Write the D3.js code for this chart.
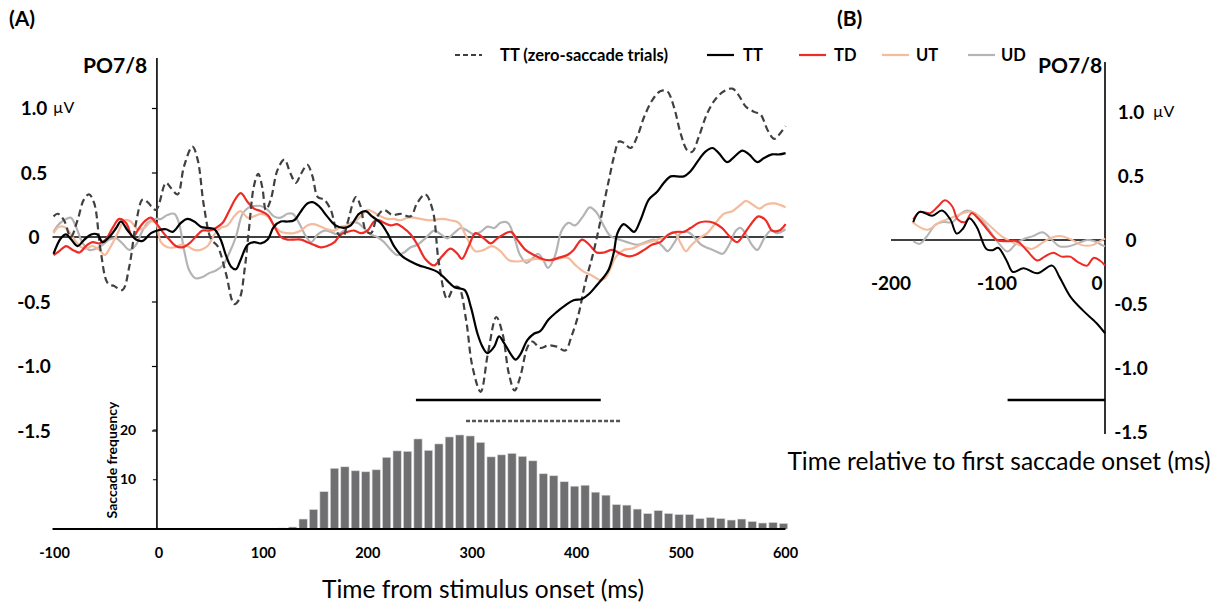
<!DOCTYPE html>
<html>
<head>
<meta charset="utf-8">
<script src="https://cdn.jsdelivr.net/npm/d3@7"></script>
<style>
  body { margin: 0; background: #fff; }
  svg { font-family: Lato, "Open Sans", sans-serif; }
</style>
</head>
<body>
<div id="chart"></div>
<script>
// ---- data ----
// panel A, [time ms, amplitude uV]
const ttZero = [[-99,0.16],[-95,0.18],[-89,0.13],[-82.6,0.0],[-76,0.13],[-70,0.29],[-65,0.33],[-60,0.26],[-54,-0.10],[-47,-0.36],[-41,-0.38],[-33,-0.41],[-26.5,-0.23],[-20,0.11],[-13.7,0.29],[-9,0.27],[-1,0.21],[8.6,0.42],[13.4,0.38],[19.8,0.33],[26,0.55],[34,0.70],[39,0.60],[45,0.24],[52,-0.02],[58,-0.07],[66,-0.28],[74,-0.52],[79,-0.48],[84,-0.25],[88,0.05],[93,0.40],[97,0.49],[101,0.38],[104.3,0.21],[109,0.29],[115.5,0.52],[122,0.60],[128,0.49],[133,0.42],[138,0.49],[144,0.56],[149,0.47],[154,0.31],[160,0.29],[166.5,0.21],[173,0.03],[178,0.0],[182.5,0.11],[190.5,0.31],[195,0.24],[200,0.05],[205,0.03],[211,0.16],[217.5,0.21],[225.5,0.17],[233,0.18],[243,0.16],[249,0.26],[257,0.33],[264,0.21],[270,-0.20],[278,-0.48],[284.5,-0.39],[289,-0.39],[296,-0.64],[302,-1.0],[310,-1.20],[317,-0.90],[325,-0.62],[331,-0.75],[337,-1.06],[342.5,-1.19],[348,-1.08],[355,-0.85],[359.5,-0.81],[367,-0.86],[375,-0.84],[383,-0.85],[391,-0.88],[397,-0.77],[404,-0.59],[410,-0.36],[417,-0.15],[423,0.06],[428,0.26],[433,0.45],[437.6,0.62],[442.5,0.74],[447,0.73],[453.6,0.69],[460,0.78],[466.5,0.93],[474.3,1.06],[482,1.13],[488.6,1.13],[495,1.01],[501.6,0.80],[508,0.67],[512.6,0.66],[519,0.78],[527,0.96],[535,1.07],[543,1.13],[551,1.15],[557,1.10],[564,1.01],[572,0.97],[578,0.95],[584.7,0.83],[591,0.76],[595.5,0.79],[602,0.86]];

const tt = [[-99,-0.13],[-92,-0.01],[-87,0.02],[-82,-0.02],[-76,-0.07],[-69.5,-0.02],[-63,0.02],[-57,0.02],[-52,-0.04],[-45.6,0.0],[-39,0.07],[-34.5,0.12],[-28,0.05],[-20,-0.02],[-13.7,-0.03],[-5.7,0.03],[0.6,0.05],[8.6,0.06],[15,0.04],[23,0.11],[29,0.14],[35.7,0.12],[42,0.08],[48.5,0.07],[55,0.06],[61,-0.02],[66,-0.14],[71,-0.23],[75.6,-0.25],[80,-0.18],[86.8,-0.06],[93,-0.04],[99.6,-0.05],[106,-0.02],[112,0.08],[118.6,0.12],[125,0.12],[131.4,0.13],[138,0.20],[144,0.26],[149,0.27],[155,0.24],[163,0.16],[171,0.09],[179,0.07],[185.6,0.09],[193.5,0.18],[200,0.20],[206,0.16],[214,0.11],[220.7,0.03],[227,-0.07],[235,-0.15],[243,-0.19],[251,-0.22],[259,-0.24],[268.6,-0.27],[277,-0.33],[285,-0.39],[294.6,-0.41],[300.5,-0.54],[307,-0.75],[311.7,-0.85],[316.5,-0.90],[323,-0.85],[327.6,-0.77],[332.3,-0.82],[339,-0.91],[343.5,-0.95],[348,-0.91],[354.7,-0.80],[361,-0.75],[367,-0.73],[375,-0.64],[383,-0.58],[391,-0.53],[399,-0.49],[407,-0.48],[414,-0.44],[421.6,-0.37],[428,-0.31],[432.8,-0.25],[437.5,-0.12],[441,0.03],[447,0.10],[452,0.07],[457,0.04],[463,0.13],[471,0.29],[479,0.35],[485.5,0.42],[492,0.47],[498,0.47],[504.6,0.47],[511,0.51],[519,0.60],[525,0.66],[532,0.69],[538,0.65],[546,0.58],[552.6,0.62],[560.6,0.67],[567,0.64],[575,0.58],[581,0.61],[589,0.64],[596,0.64],[602,0.65]];

const td = [[-99,-0.14],[-93.5,-0.11],[-87,-0.07],[-80.7,-0.10],[-74,-0.12],[-68,-0.07],[-61.6,-0.04],[-55,-0.05],[-49,-0.02],[-42.4,0.07],[-36,0.14],[-29.7,0.11],[-23,0.0],[-17,0.07],[-10.5,0.13],[-5.7,0.15],[-1,0.11],[5.4,0.04],[11.8,-0.02],[18,-0.07],[24.6,-0.08],[31,-0.05],[37,0.0],[43.7,0.05],[50,0.05],[56.5,0.07],[63,0.11],[69,0.20],[75.6,0.30],[80.4,0.34],[87,0.27],[93,0.22],[99.6,0.20],[106,0.17],[112,0.09],[118.6,0.0],[125,-0.02],[131,-0.02],[138,-0.02],[144,-0.04],[150,-0.06],[157,-0.08],[163,-0.07],[170,-0.04],[176,0.02],[182.5,0.04],[189,0.05],[195,0.03],[201.6,0.05],[208,0.12],[213,0.13],[217.5,0.11],[224,0.09],[230,0.10],[236,0.07],[243,0.02],[249.5,-0.06],[257,-0.17],[265.5,-0.22],[273,-0.15],[281,-0.09],[287.7,-0.13],[292,-0.17],[298.6,-0.07],[305,0.03],[313,-0.01],[319.5,-0.05],[326,-0.01],[332,0.02],[339,0.04],[345,-0.02],[353,-0.10],[361,-0.14],[369,-0.17],[377,-0.18],[385,-0.16],[393,-0.14],[399,-0.10],[407,-0.02],[414,-0.06],[421,-0.12],[428,-0.12],[436,-0.10],[444,-0.13],[452,-0.15],[458,-0.14],[466.5,-0.10],[474,-0.06],[482,-0.04],[490,0.02],[498,0.04],[504.6,0.04],[511,0.07],[519,0.11],[525,0.12],[533,0.11],[541,0.07],[549,0.0],[555.6,-0.04],[562,0.02],[568,0.09],[576,0.16],[583,0.13],[589,0.05],[596,0.05],[602,0.10]];

const ut = [[-99,0.03],[-93.5,0.08],[-87,0.07],[-80.7,0.0],[-74,-0.07],[-68,-0.09],[-61.6,-0.07],[-55,-0.10],[-50,-0.14],[-44,-0.07],[-37.6,0.03],[-31,0.13],[-25,0.12],[-18.5,0.06],[-12,0.07],[-5.7,0.12],[-1,0.11],[3.8,-0.04],[10,-0.08],[16.6,-0.08],[23,-0.06],[29,-0.07],[35.7,-0.10],[42,-0.10],[48.5,-0.07],[55,0.02],[61,0.07],[67.6,0.09],[74,0.16],[80,0.20],[87,0.15],[93,0.16],[99.6,0.18],[106,0.16],[112,0.09],[118.6,0.04],[125,0.03],[131,0.03],[138,0.05],[144,0.09],[150,0.10],[157,0.08],[163,0.06],[170,0.05],[176,0.08],[182.5,0.09],[189,0.12],[195,0.16],[201.6,0.21],[208,0.19],[214,0.16],[220.7,0.14],[227,0.14],[233,0.13],[240,0.15],[246,0.15],[252.6,0.14],[262,0.13],[272,0.14],[281,0.13],[289,0.11],[297,-0.01],[305,-0.11],[313,-0.10],[321,-0.07],[329,-0.11],[337,-0.18],[345,-0.19],[354.7,-0.18],[364,-0.17],[374,-0.18],[383,-0.17],[393,-0.16],[401,-0.22],[409,-0.27],[417,-0.30],[423,-0.33],[429,-0.32],[434,-0.25],[439,-0.16],[447,-0.10],[455,-0.09],[463,-0.06],[471,-0.04],[479,-0.02],[487,0.0],[495,0.04],[501.6,-0.05],[506.5,-0.11],[511,-0.07],[519,-0.01],[527,0.03],[535,0.11],[543,0.18],[551,0.20],[559,0.25],[564,0.28],[570.6,0.25],[577,0.22],[583,0.25],[591,0.26],[602,0.23]];

const ud = [[-99,0.04],[-95,0.09],[-89,0.13],[-82.6,0.15],[-77.5,0.08],[-71,-0.05],[-65,-0.10],[-58,-0.09],[-52,-0.06],[-45.6,-0.02],[-39,-0.01],[-33,-0.05],[-26.5,-0.10],[-20,-0.06],[-15,0.03],[-9,0.11],[-2.5,0.14],[3.8,0.14],[10,0.17],[16.6,0.18],[21,0.11],[26,-0.10],[31,-0.26],[37,-0.32],[43.7,-0.31],[50,-0.28],[56.5,-0.26],[63,-0.22],[69,-0.13],[75.6,0.0],[82,0.18],[88,0.23],[93,0.24],[99.6,0.24],[106,0.21],[112,0.16],[118.6,0.15],[125,0.18],[130,0.18],[136,0.11],[143,0.0],[147.8,-0.04],[154,0.02],[160.5,0.05],[166.5,0.04],[173,0.02],[179,0.05],[185.6,0.11],[192,0.11],[198,0.07],[204.7,0.02],[211,0.0],[217.5,-0.04],[224,-0.10],[230,-0.14],[236.6,-0.12],[243,-0.08],[249.5,-0.06],[257,-0.01],[265.5,0.05],[272,0.02],[278,-0.01],[284.5,0.03],[291,0.07],[297,0.05],[303.6,0.02],[310,0.04],[316.5,0.08],[323,0.07],[329,0.11],[336,0.11],[342.5,-0.01],[347.7,-0.14],[354,-0.20],[360.5,-0.16],[365,-0.13],[370,-0.18],[374.6,-0.24],[381,-0.15],[387.6,0.05],[394,0.11],[400.5,0.09],[408,0.16],[414.5,0.23],[421,0.19],[427,0.10],[434,0.01],[442.5,-0.02],[450,-0.04],[460,-0.06],[468,-0.04],[476,-0.02],[484,-0.07],[489,-0.11],[495,-0.05],[501.6,0.03],[508,0.04],[514.5,0.0],[521,-0.06],[529,-0.09],[535,-0.11],[541.6,-0.13],[548,-0.06],[554.5,0.05],[559,0.07],[564,0.02],[570.6,-0.07],[575,-0.10],[581.5,-0.01],[588,0.05],[594,0.03],[602,0.06]];

// panel B, time relative to first saccade onset
const ttB = [[-179,0.14],[-173,0.22],[-161,0.19],[-152,0.23],[-144,0.16],[-138,0.05],[-132,0.09],[-126,0.17],[-119,0.10],[-110,-0.07],[-104,-0.08],[-99,-0.06],[-91,-0.16],[-85,-0.25],[-75,-0.22],[-62,-0.26],[-48,-0.20],[-41,-0.29],[-31,-0.44],[-19,-0.55],[-6,-0.65],[2,-0.73]];
const tdB = [[-179,0.16],[-173,0.22],[-163,0.21],[-156,0.26],[-149,0.31],[-142,0.26],[-137,0.16],[-130,0.14],[-124,0.21],[-118,0.17],[-109,0.08],[-100,0.0],[-91,-0.01],[-81,-0.01],[-72,-0.08],[-62,-0.16],[-55,-0.13],[-47,-0.10],[-39,-0.13],[-31,-0.13],[-24,-0.17],[-15,-0.20],[-9,-0.14],[-3,-0.16],[2,-0.20]];
const utB = [[-180,0.14],[-166,0.08],[-154,0.14],[-144,0.17],[-135,0.20],[-127,0.22],[-121,0.21],[-113,0.16],[-104,0.09],[-94,0.02],[-85,-0.02],[-75,-0.05],[-67,-0.07],[-57,-0.02],[-48,0.02],[-39,0.03],[-29,0.0],[-20,-0.04],[-10,-0.04],[-3,-0.01],[2,0.01]];
const udB = [[-179,-0.01],[-173,-0.03],[-166,0.03],[-158,0.12],[-151,0.14],[-142,0.14],[-135,0.20],[-128,0.23],[-121,0.21],[-113,0.14],[-105,0.05],[-97,-0.04],[-90,-0.09],[-81,-0.02],[-74,0.01],[-66,0.03],[-57,0.06],[-48,0.0],[-41,-0.05],[-33,-0.05],[-25,-0.03],[-15,0.0],[-8,-0.01],[-1,-0.04],[2,-0.05]];

// saccade histogram (bin centre ms, count)
const histTimes = [90,100,110,120,130,140,150,160,170,180,190,200,210,220,230,240,250,260,270,280,290,300,310,320,330,340,350,360,370,380,390,400,410,420,430,440,450,460,470,480,490,500,510,520,530,540,550,560,570,580,590,600];
const histCounts = [0.1,0.1,0.15,0.2,0.4,2.0,3.9,7.5,12.2,12.5,11.7,11.5,11.9,14.4,15.7,15.6,18.1,15.8,17.1,18.5,18.9,18.7,17.4,14.5,14.9,15.2,14.6,13.7,11.1,10.7,9.5,8.6,8.8,7.4,6.8,4.9,4.8,4.0,3.1,3.7,3.1,2.9,2.9,2.1,2.3,2.1,1.8,2.0,1.5,1.2,1.3,1.1];

// significance windows
const sigSolidA = [248, 425];
const sigDashedA = [296, 445];
const sigSolidB = [-90, 0];

// ticks and labels
const erpTicks = [1.0, 0.5, 0, -0.5, -1.0, -1.5];
const erpTickLabels = ["1.0", "0.5", "0", "-0.5", "-1.0", "-1.5"];
const xTicksA = [-100, 0, 100, 200, 300, 400, 500, 600];
const xTicksB = [-200, -100, 0];
const histTicks = [10, 20];
const legendNames = ["TT (zero-saccade trials)", "TT", "TD", "UT", "UD"];

// ---- drawing ----
const width = 1220, height = 604;
const svg = d3.select("#chart").append("svg")
  .attr("width", width)
  .attr("height", height);

const xA = d3.scaleLinear().domain([-100, 600]).range([52.5, 783.5]);
const yA = d3.scaleLinear().domain([-1.5, 1.0]).range([430.5, 108]);
const yH = d3.scaleLinear().domain([0, 20]).range([529, 429.5]);
const xB = d3.scaleLinear().domain([-200, 0]).range([891, 1103]);
const yB = d3.scaleLinear().domain([-1.5, 1.0]).range([432, 112]);

const styles = [
  { color: "#404040", dash: "7,4", w: 2.2 },   // TT zero-saccade
  { color: "#000000", dash: null, w: 2.2 },    // TT
  { color: "#ee2b24", dash: null, w: 2.2 },    // TD
  { color: "#f4bb9c", dash: null, w: 2.2 },    // UT
  { color: "#b4b4b4", dash: null, w: 2.2 }     // UD
];

// panel labels
svg.append("text").attr("x", 9).attr("y", 26).attr("font-size", 21).attr("font-weight", "bold").text("(A)");
svg.append("text").attr("x", 837).attr("y", 26).attr("font-size", 21).attr("font-weight", "bold").text("(B)");

// legend
const legendX = [[455, 500], [707, 743], [799, 834], [882, 916], [968, 1001]];
const legend = svg.append("g").attr("class", "legend");
legendNames.forEach((name, i) => {
  const s = styles[i];
  legend.append("line")
    .attr("x1", legendX[i][0]).attr("x2", legendX[i][0] + 27)
    .attr("y1", 55).attr("y2", 55)
    .attr("stroke", s.color).attr("stroke-width", 2.2)
    .attr("stroke-dasharray", i === 0 ? "5,3" : null);
  legend.append("text")
    .attr("x", legendX[i][1]).attr("y", 61)
    .attr("font-size", 16.5).attr("font-weight", "bold")
    .text(name);
});

// ===== panel A =====
const gA = svg.append("g").attr("class", "panelA");

gA.append("text").attr("x", 83).attr("y", 73).attr("font-size", 21).attr("font-weight", "bold").text("PO7/8");

// vertical axis line, continuous through histogram
gA.append("line").attr("x1", xA(0)).attr("x2", xA(0)).attr("y1", 58).attr("y2", yH(0))
  .attr("stroke", "#000").attr("stroke-width", 1.6);

// ERP ticks
gA.append("g")
  .attr("transform", `translate(${xA(0)},0)`)
  .call(d3.axisLeft(yA).tickValues(erpTicks.filter(d => d !== 0)).tickSize(5).tickSizeOuter(0).tickFormat(""))
  .call(g => g.select(".domain").remove())
  .selectAll("line").attr("stroke-width", 1.2);

gA.append("g").selectAll("text")
  .data(erpTicks)
  .join("text")
  .attr("x", 34)
  .attr("y", d => yA(d) + 7)
  .attr("text-anchor", "middle")
  .attr("font-size", 19).attr("font-weight", "bold")
  .text((d, i) => erpTickLabels[i]);
gA.append("text").attr("x", 53).attr("y", yA(1.0) + 5).attr("font-size", 16).text("\u00b5V");

// zero line
gA.append("line").attr("x1", xA(-100)).attr("x2", xA(600)).attr("y1", yA(0)).attr("y2", yA(0))
  .attr("stroke", "#000").attr("stroke-width", 1.6);

// histogram
const bw = xA(10) - xA(0);
gA.append("g").selectAll("rect")
  .data(histCounts)
  .join("rect")
  .attr("x", (d, i) => xA(histTimes[i]) - bw / 2 + 1.1)
  .attr("width", bw - 2.2)
  .attr("y", d => yH(d))
  .attr("height", d => yH(0) - yH(d))
  .attr("fill", "#6f6e70")
  .attr("stroke", "#d8d8d8")
  .attr("stroke-width", 0.6);

gA.append("line").attr("x1", xA(-100)).attr("x2", xA(600) + 2).attr("y1", yH(0)).attr("y2", yH(0))
  .attr("stroke", "#000").attr("stroke-width", 2);

gA.append("g")
  .attr("transform", `translate(${xA(0)},0)`)
  .call(d3.axisLeft(yH).tickValues(histTicks).tickSize(4).tickFormat(""))
  .call(g => g.select(".domain").remove());

gA.append("g").selectAll("text")
  .data(histTicks)
  .join("text")
  .attr("x", 128).attr("y", d => yH(d) + 5)
  .attr("text-anchor", "middle")
  .attr("font-size", 14).attr("font-weight", "bold")
  .text(d => d);

gA.append("text")
  .attr("transform", "translate(117,460) rotate(-90)")
  .attr("text-anchor", "middle")
  .attr("font-size", 14).attr("font-weight", "bold")
  .text("Saccade frequency");

// x tick labels and title
gA.append("g").selectAll("text")
  .data(xTicksA)
  .join("text")
  .attr("x", d => xA(d) + 2)
  .attr("y", 558)
  .attr("text-anchor", "middle")
  .attr("font-size", 14.5).attr("font-weight", "bold")
  .text(d => d);

gA.append("text").attr("x", 483).attr("y", 598).attr("text-anchor", "middle")
  .attr("font-size", 24.5).attr("fill", "#000")
  .text("Time from stimulus onset (ms)");

// significance bars
gA.append("line").attr("x1", xA(sigSolidA[0])).attr("x2", xA(sigSolidA[1]))
  .attr("y1", 400).attr("y2", 400).attr("stroke", "#000").attr("stroke-width", 2.5);
gA.append("line").attr("x1", xA(sigDashedA[0])).attr("x2", xA(sigDashedA[1]))
  .attr("y1", 421).attr("y2", 421).attr("stroke", "#555").attr("stroke-width", 2.5)
  .attr("stroke-dasharray", "4,2");

// ERP traces
const lineA = d3.line().x(d => xA(d[0])).y(d => yA(d[1])).curve(d3.curveCatmullRom.alpha(0.5));
const seriesA = [ud, ut, td, ttZero, tt];
const styleIdxA = [4, 3, 2, 0, 1];
seriesA.forEach((s, i) => {
  const st = styles[styleIdxA[i]];
  gA.append("path")
    .datum(s)
    .attr("d", lineA)
    .attr("fill", "none")
    .attr("stroke", st.color)
    .attr("stroke-width", st.w)
    .attr("stroke-dasharray", st.dash);
});

// ===== panel B =====
const gB = svg.append("g").attr("class", "panelB");

gB.append("text").attr("x", 1038).attr("y", 73).attr("font-size", 21).attr("font-weight", "bold").text("PO7/8");

gB.append("line").attr("x1", 1105).attr("x2", 1105).attr("y1", 62).attr("y2", 434)
  .attr("stroke", "#000").attr("stroke-width", 1.6);
gB.append("line").attr("x1", 891).attr("x2", 1105).attr("y1", yB(0)).attr("y2", yB(0))
  .attr("stroke", "#000").attr("stroke-width", 1.6);

gB.append("g").selectAll("text")
  .data(erpTicks)
  .join("text")
  .attr("x", 1131)
  .attr("y", d => yB(d) + 7)
  .attr("text-anchor", "middle")
  .attr("font-size", 19).attr("font-weight", "bold")
  .text((d, i) => erpTickLabels[i]);
gB.append("text").attr("x", 1153).attr("y", yB(1.0) + 5).attr("font-size", 16).text("\u00b5V");

gB.append("g").selectAll("text")
  .data(xTicksB)
  .join("text")
  .attr("x", (d, i) => xB(d) - (i === 2 ? 6 : 0))
  .attr("y", 290)
  .attr("text-anchor", "middle")
  .attr("font-size", 19).attr("font-weight", "bold")
  .text(d => d);

gB.append("text").attr("x", 999).attr("y", 470).attr("text-anchor", "middle")
  .attr("font-size", 24.5).attr("fill", "#000")
  .text("Time relative to first saccade onset (ms)");

gB.append("line").attr("x1", xB(sigSolidB[0])).attr("x2", xB(sigSolidB[1]) + 2)
  .attr("y1", 400).attr("y2", 400).attr("stroke", "#000").attr("stroke-width", 2.5);

const lineB = d3.line().x(d => xB(d[0])).y(d => yB(d[1])).curve(d3.curveCatmullRom.alpha(0.5));
const seriesB = [udB, utB, tdB, ttB];
const styleIdxB = [4, 3, 2, 1];
seriesB.forEach((s, i) => {
  const st = styles[styleIdxB[i]];
  gB.append("path")
    .datum(s)
    .attr("d", lineB)
    .attr("fill", "none")
    .attr("stroke", st.color)
    .attr("stroke-width", 2);
});
</script>
</body>
</html>
